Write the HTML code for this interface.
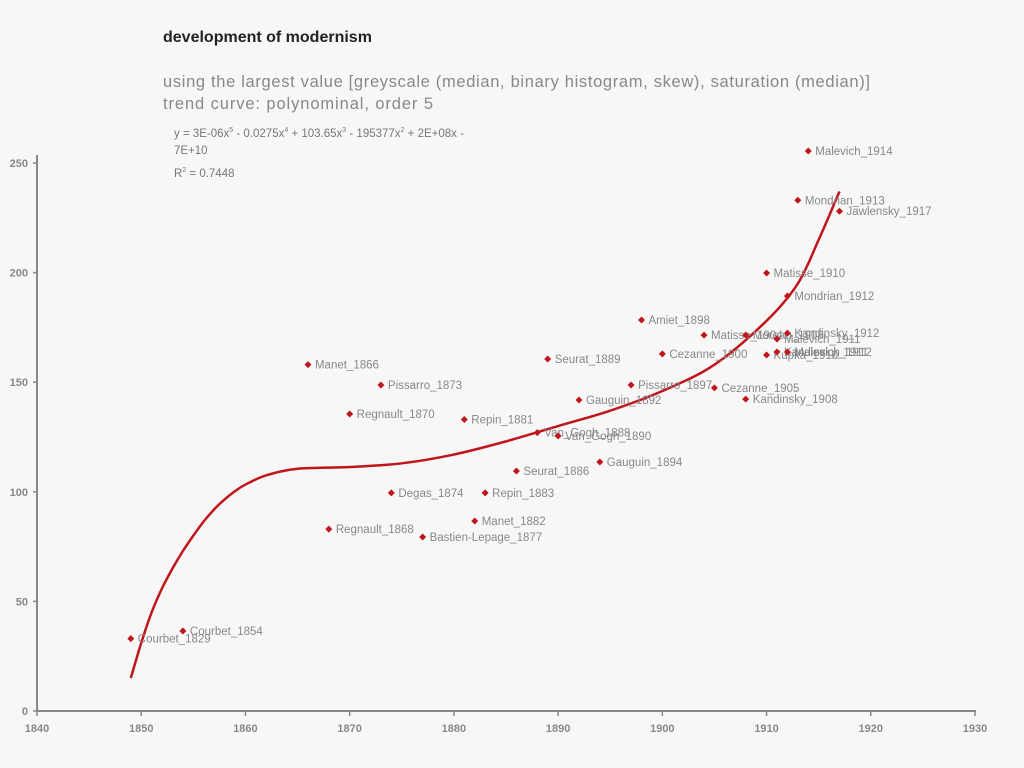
<!DOCTYPE html>
<html><head><meta charset="utf-8"><style>
body{margin:0;background:#f7f7f7;width:1024px;height:768px;overflow:hidden;font-family:"Liberation Sans","DejaVu Sans",sans-serif;}
svg{position:absolute;left:0;top:0}
</style></head><body>
<svg width="1024" height="768">
<text x="163" y="42" font-size="16" font-weight="bold" fill="#222">development of modernism</text>
<text x="163" y="87" font-size="16.5" fill="#888" textLength="707">using the largest value [greyscale (median, binary histogram, skew), saturation (median)]</text>
<text x="163" y="109" font-size="16.5" fill="#888" textLength="270">trend curve: polynominal, order 5</text>
<g font-size="11.5" fill="#777">
<text x="174" y="137">y = 3E-06x<tspan font-size="7" dy="-5">5</tspan><tspan dy="5"> - 0.0275x</tspan><tspan font-size="7" dy="-5">4</tspan><tspan dy="5"> + 103.65x</tspan><tspan font-size="7" dy="-5">3</tspan><tspan dy="5"> - 195377x</tspan><tspan font-size="7" dy="-5">2</tspan><tspan dy="5"> + 2E+08x -</tspan></text>
<text x="174" y="154">7E+10</text>
<text x="174" y="177">R<tspan font-size="7" dy="-5">2</tspan><tspan dy="5"> = 0.7448</tspan></text>
</g>
<g id="axes"></g>
<g id="marks"></g>
</svg>
<script>
const xTicks=[1840,1850,1860,1870,1880,1890,1900,1910,1920,1930];
const yTicks=[0,50,100,150,200,250];
const names=["Courbet_1829","Courbet_1854","Manet_1866","Regnault_1868","Regnault_1870","Pissarro_1873","Degas_1874","Bastien-Lepage_1877","Repin_1881","Manet_1882","Repin_1883","Seurat_1886","Van_Gogh_1888","Seurat_1889","Van_Gogh_1890","Gauguin_1892","Gauguin_1894","Pissarro_1897","Amiet_1898","Cezanne_1900","Matisse_1904","Cezanne_1905","Kandinsky_1908","Moreau_1908","Matisse_1910","Kupka_1910","Malevich_1911","Kandinsky_1911","Kandinsky_1912","Mondrian_1912","Malevich_1912","Mondrian_1913","Malevich_1914","Jawlensky_1917"];
const years=[1849,1854,1866,1868,1870,1873,1874,1877,1881,1882,1883,1886,1888,1889,1890,1892,1894,1897,1898,1900,1904,1905,1908,1908,1910,1910,1911,1911,1912,1912,1912,1913,1914,1917];
const values=[33,36.5,158,83,135.5,148.7,99.5,79.4,133,86.7,99.5,109.5,127,160.6,125.5,141.9,113.6,148.7,178.4,162.9,171.5,147.4,142.3,171.5,199.8,162.4,169.7,163.8,172.4,189.3,163.8,233,255.5,228];
const trendYears=[1849,1850,1851,1852,1853,1854,1855,1856,1857,1858,1859,1860,1862,1865,1870,1875,1880,1885,1890,1895,1900,1905,1910,1913,1915,1917];
const trendValues=[15,31,45,56,65,73,80,86.5,92,96.5,100.3,103.3,107.5,110.5,111.3,113,117,123,130,137,146,158,178,195,215,237];
const X=y=>37+(y-1840)*(938/90);
const Y=v=>711-v*(548/250);
const NS="http://www.w3.org/2000/svg";
function mk(t,a,p){const e=document.createElementNS(NS,t);for(const k in a)e.setAttribute(k,a[k]);p.appendChild(e);return e;}
const ax=document.getElementById('axes'),mg=document.getElementById('marks');
let l=mk('line',{x1:37,y1:155,x2:37,y2:711,stroke:'#888','stroke-width':2},ax);


l=mk('line',{x1:37,y1:711,x2:976,y2:711,stroke:'#888','stroke-width':2},ax);


xTicks.forEach(t=>{mk('line',{x1:X(t),y1:711,x2:X(t),y2:716,stroke:'#888','stroke-width':1.5},ax);
const e=mk('text',{x:X(t),y:732,'text-anchor':'middle','font-size':11,'font-weight':'bold',fill:'#888'},ax);e.textContent=t;

});
yTicks.forEach(t=>{mk('line',{x1:33,y1:Y(t),x2:37,y2:Y(t),stroke:'#888','stroke-width':1.5},ax);
const e=mk('text',{x:28,y:Y(t)+4,'text-anchor':'end','font-size':11,'font-weight':'bold',fill:'#888'},ax);e.textContent=t;

});
const P=trendYears.map((y,i)=>[X(y),Y(trendValues[i])]);
let d=`M${P[0][0]},${P[0][1]}`;
for(let i=0;i<P.length-1;i++){const p0=P[i-1]||P[i],p1=P[i],p2=P[i+1],p3=P[i+2]||P[i+1];
d+=` C${p1[0]+(p2[0]-p0[0])/6},${p1[1]+(p2[1]-p0[1])/6} ${p2[0]-(p3[0]-p1[0])/6},${p2[1]-(p3[1]-p1[1])/6} ${p2[0]},${p2[1]}`;}
const tc=mk('path',{d:d,fill:'none',stroke:'#c0161b','stroke-width':2.5},mg);


years.forEach((yr,i)=>{const x=X(yr),y=Y(values[i]);
const p=mk('path',{d:`M${x},${y-3.5}L${x+3.5},${y}L${x},${y+3.5}L${x-3.5},${y}Z`,fill:'#c0161b'},mg);


const t=mk('text',{x:x+7,y:y+4,'font-size':11.5,fill:'#888'},mg);t.textContent=names[i];

});
</script>
</body></html>
